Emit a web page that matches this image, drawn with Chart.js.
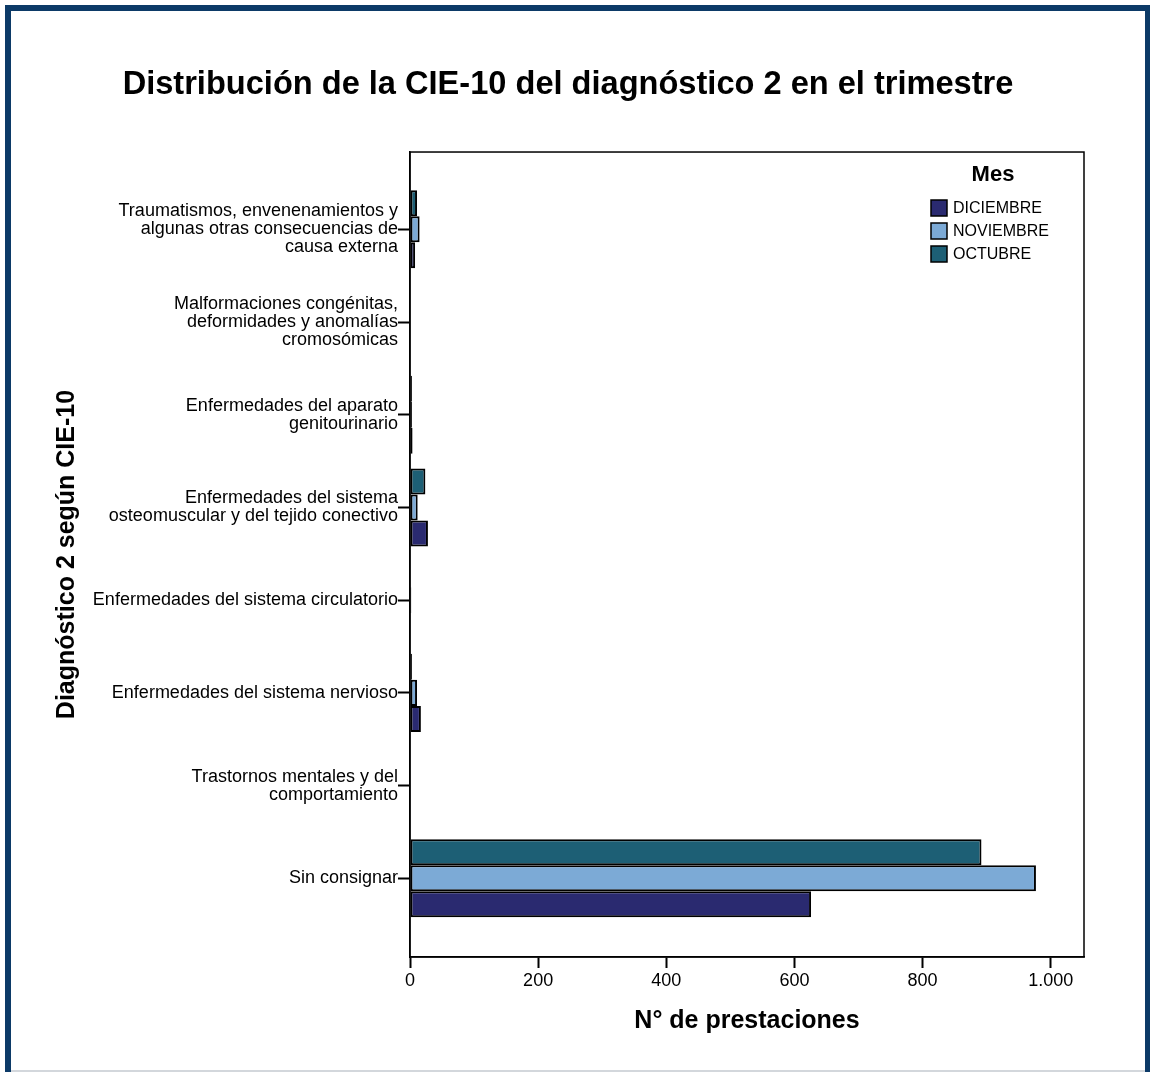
<!DOCTYPE html>
<html>
<head>
<meta charset="utf-8">
<script src="https://cdn.jsdelivr.net/npm/chart.js@4"></script>
<style>
    html, body { margin: 0; padding: 0; background: #fff; overflow: hidden; }
    #frame {
        position: absolute; left: 5px; top: 5px; width: 1146px; height: 1100px;
        box-sizing: border-box; border: 6px solid #0c3a67;
    }
    #shade { position: absolute; left: 11px; top: 1070px; width: 1134px; height: 2px; background: #d3d7dc; }
    #wrap { position: absolute; left: 0; top: 0; width: 1150px; height: 1072px; }
</style>
</head>
<body>
<div id="frame"></div>
<div id="shade"></div>
<div id="wrap"><canvas id="chart"></canvas></div>
<script>
// Categories (top to bottom), each as lines of the axis label
const categories = [
    ['Traumatismos, envenenamientos y', 'algunas otras consecuencias de', 'causa externa'],
    ['Malformaciones congénitas,', 'deformidades y anomalías', 'cromosómicas'],
    ['Enfermedades del aparato', 'genitourinario'],
    ['Enfermedades del sistema', 'osteomuscular y del tejido conectivo'],
    ['Enfermedades del sistema circulatorio'],
    ['Enfermedades del sistema nervioso'],
    ['Trastornos mentales y del', 'comportamiento'],
    ['Sin consignar']
];

// Values per month (N° de prestaciones)
const octubre   = [11, 1, 3, 24, 1, 3, 1, 892];
const noviembre = [15, 0, 3, 12, 2, 11, 1, 977];
const diciembre = [8, 0, 4, 28, 1, 17, 0, 626];

const months = ['OCTUBRE', 'NOVIEMBRE', 'DICIEMBRE'];
const monthColors = ['#1d5f75', '#7caad6', '#2a2a70'];
const xTicks = [0, 200, 400, 600, 800, 1000];

Chart.defaults.color = '#000';
Chart.defaults.font.family = '"Liberation Sans", Arial, sans-serif';

function toPoints(values) {
    return values.map((v, i) => ({ x: v, y: i }));
}

// Plot frame (top and right sides) and the legend drawn inside the plot
const framePlugin = {
    id: 'frameAndLegend',
    afterDraw(chart) {
        const { ctx, chartArea: a } = chart;
        ctx.save();
        ctx.strokeStyle = '#000';
        ctx.lineWidth = 1.5;
        ctx.strokeRect(a.left, a.top, a.right - a.left, a.bottom - a.top);

        // legend
        ctx.font = 'bold 22px "Liberation Sans", Arial, sans-serif';
        ctx.textAlign = 'center';
        ctx.textBaseline = 'middle';
        ctx.fillStyle = '#000';
        ctx.fillText('Mes', 993, 175);

        ctx.font = '16px "Liberation Sans", Arial, sans-serif';
        ctx.textAlign = 'left';
        const ds = chart.data.datasets.slice().reverse();
        ds.forEach((d, i) => {
            const y = 208 + i * 23;
            ctx.fillStyle = d.backgroundColor;
            ctx.fillRect(931, y - 8, 16, 16);
            ctx.lineWidth = 1.5;
            ctx.strokeRect(931, y - 8, 16, 16);
            ctx.fillStyle = '#000';
            ctx.fillText(d.label, 953, y + 1);
        });
        ctx.restore();
    }
};

new Chart(document.getElementById('chart'), {
    type: 'bar',
    data: {
        datasets: months.map((m, i) => ({
            label: m,
            data: toPoints([octubre, noviembre, diciembre][i]),
            backgroundColor: monthColors[i],
            borderColor: '#000',
            borderWidth: 2,
            borderSkipped: false,
            categoryPercentage: 0.842,
            barPercentage: 1.0
        }))
    },
    options: {
        indexAxis: 'y',
        responsive: true,
        maintainAspectRatio: false,
        animation: false,
        layout: { padding: { left: 52, right: 66, top: 0, bottom: 0 } },
        plugins: {
            legend: { display: false },
            tooltip: { enabled: false },
            title: {
                display: true,
                text: 'Distribución de la CIE-10 del diagnóstico 2 en el trimestre',
                font: { size: 32.6, weight: 'bold', lineHeight: 1.2 },
                color: '#000',
                padding: { top: 65.4, bottom: 47.5 }
            }
        },
        scales: {
            x: {
                type: 'linear',
                min: 0,
                max: 1052,
                afterFit: (s) => { s.height = 115; },
                afterBuildTicks: (s) => { s.ticks = xTicks.map(v => ({ value: v })); },
                ticks: {
                    font: { size: 18 },
                    color: '#000',
                    padding: 2,
                    callback: (v) => v.toLocaleString('de-DE')
                },
                grid: {
                    drawOnChartArea: false,
                    tickLength: 11,
                    tickColor: '#000',
                    tickWidth: 2
                },
                border: { color: '#000', width: 1.5 },
                title: {
                    display: true,
                    text: 'N° de prestaciones',
                    font: { size: 25, weight: 'bold', lineHeight: 1.2 },
                    color: '#000',
                    padding: { top: 0, bottom: 36 }
                }
            },
            y: {
                type: 'linear',
                reverse: true,
                offset: false,
                min: -0.834,
                max: 7.849,
                afterFit: (s) => { s.width = 358; },
                afterBuildTicks: (s) => { s.ticks = categories.map((_, i) => ({ value: i })); },
                ticks: {
                    autoSkip: false,
                    font: { size: 18, lineHeight: 1.0 },
                    color: '#000',
                    padding: 0,
                    callback: (v) => categories[v]
                },
                grid: {
                    offset: false,
                    drawOnChartArea: false,
                    tickLength: 12,
                    tickColor: '#000',
                    tickWidth: 2
                },
                border: { color: '#000', width: 1.5 },
                title: {
                    display: true,
                    text: 'Diagnóstico 2 según CIE-10',
                    font: { size: 25, weight: 'bold', lineHeight: 1.2 },
                    color: '#000',
                    padding: { top: 0, bottom: 0 }
                }
            }
        }
    },
    plugins: [framePlugin]
});
</script>
</body>
</html>
